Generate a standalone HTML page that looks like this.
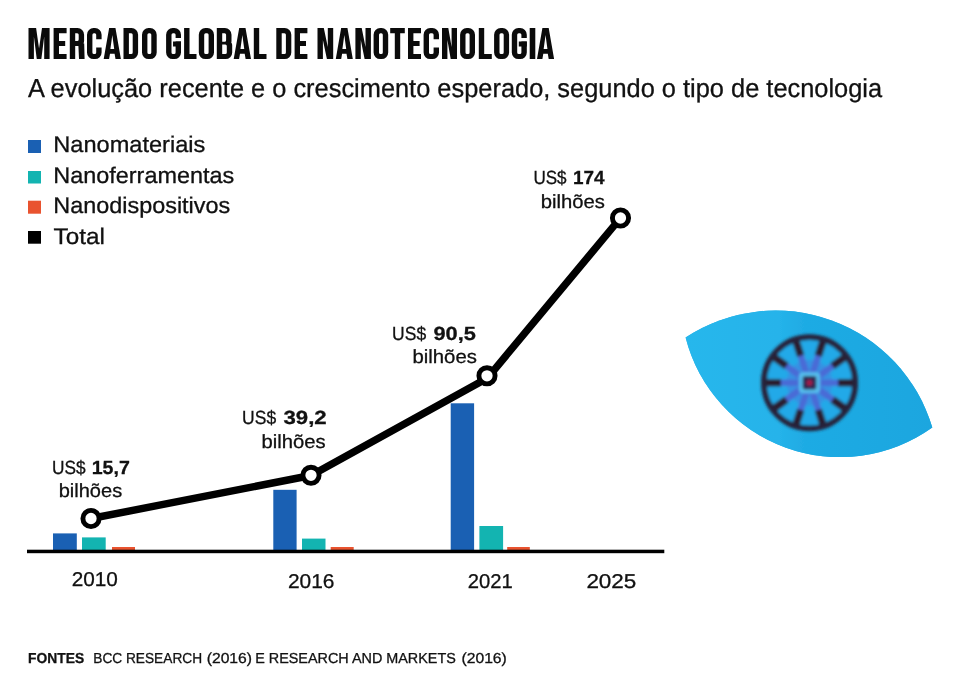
<!DOCTYPE html>
<html><head><meta charset="utf-8">
<style>
html,body{margin:0;padding:0;background:#fff;}
body{width:960px;height:690px;position:relative;overflow:hidden;font-family:"Liberation Sans",sans-serif;color:#111;}
.t{position:absolute;white-space:nowrap;line-height:1;transform-origin:0 0;}
.b{font-weight:bold;}
svg{position:absolute;left:0;top:0;}
</style></head><body>
<svg width="960" height="690" viewBox="0 0 960 690">
<g transform="translate(0,28.1)"><path fill="#0b0b0b" d="M28.5,31 L28.5,0 L36.1,0 L39.05,20.5 L42,0 L49.6,0 L49.6,31 L44.2,31 L44.2,8.5 L41.35,31 L36.75,31 L33.9,8.5 L33.9,31 Z M53.6,0 h5.4 v31 h-5.4 Z M53.6,0 h13 v5.2 h-13 Z M53.6,12.8 h11.6 v5.2 h-11.6 Z M53.6,25.8 h13 v5.2 h-13 Z M69.8,0 h5.4 v31 h-5.4 Z M69.8,0 H77.5 A6.6,6.6 0 0 1 84.1,6.6 V13 A5,5 0 0 1 79.1,18 H69.8 V0 Z M78.3,15.5 L84.2,15.5 L84.6,31 L79,31 Z M93.6,0 H95 A6.6,6.6 0 0 1 101.6,6.6 V24.4 A6.6,6.6 0 0 1 95,31 H93.6 A6.6,6.6 0 0 1 87,24.4 V6.6 A6.6,6.6 0 0 1 93.6,0 Z M103.7,31 L109.15,0 L115.45,0 L120.9,31 L115.5,31 L114.6,25.7 L110,25.7 L109.1,31 Z M123.5,0 H131.5 A6.6,6.6 0 0 1 138.1,6.6 V24.4 A6.6,6.6 0 0 1 131.5,31 H123.5 V0 Z M148.6,0 H150.1 A6.6,6.6 0 0 1 156.7,6.6 V24.4 A6.6,6.6 0 0 1 150.1,31 H148.6 A6.6,6.6 0 0 1 142,24.4 V6.6 A6.6,6.6 0 0 1 148.6,0 Z M172.7,0 H174.4 A6.6,6.6 0 0 1 181,6.6 V24.4 A6.6,6.6 0 0 1 174.4,31 H172.7 A6.6,6.6 0 0 1 166.1,24.4 V6.6 A6.6,6.6 0 0 1 172.7,0 Z M184.1,0 h5.4 v31 h-5.4 Z M184.1,25.8 h12.4 v5.2 h-12.4 Z M205.4,0 H207.4 A6.6,6.6 0 0 1 214,6.6 V24.4 A6.6,6.6 0 0 1 207.4,31 H205.4 A6.6,6.6 0 0 1 198.8,24.4 V6.6 A6.6,6.6 0 0 1 205.4,0 Z M216.8,0 h5.4 v31 h-5.4 Z M216.8,0 H224.9 A6.6,6.6 0 0 1 231.5,6.6 V13.1 A3.5,3.5 0 0 1 228,16.6 H216.8 V0 Z M216.8,13.6 H228.7 A3.5,3.5 0 0 1 232.2,17.1 V24.4 A6.6,6.6 0 0 1 225.6,31 H216.8 V13.6 Z M233.7,31 L239.2,0 L245.5,0 L251,31 L245.6,31 L244.7,25.7 L240,25.7 L239.1,31 Z M253.8,0 h5.4 v31 h-5.4 Z M253.8,25.8 h12.7 v5.2 h-12.7 Z M276.3,0 H284.7 A6.6,6.6 0 0 1 291.3,6.6 V24.4 A6.6,6.6 0 0 1 284.7,31 H276.3 V0 Z M294.6,0 h5.4 v31 h-5.4 Z M294.6,0 h12.8 v5.2 h-12.8 Z M294.6,12.8 h11.4 v5.2 h-11.4 Z M294.6,25.8 h12.8 v5.2 h-12.8 Z M317.5,0 L323.8,0 L327.8,19 L327.8,0 L333.2,0 L333.2,31 L326.9,31 L322.9,12 L322.9,31 L317.5,31 Z M335.8,31 L341.15,0 L347.45,0 L352.8,31 L347.4,31 L346.5,25.7 L342.1,25.7 L341.2,31 Z M355.4,0 L361.7,0 L365.5,19 L365.5,0 L370.9,0 L370.9,31 L364.6,31 L360.8,12 L360.8,31 L355.4,31 Z M380.2,0 H381.6 A6.6,6.6 0 0 1 388.2,6.6 V24.4 A6.6,6.6 0 0 1 381.6,31 H380.2 A6.6,6.6 0 0 1 373.6,24.4 V6.6 A6.6,6.6 0 0 1 380.2,0 Z M390.2,0 h14.6 v5.2 h-14.6 Z M394.8,0 h5.4 v31 h-5.4 Z M408,0 h5.4 v31 h-5.4 Z M408,0 h13 v5.2 h-13 Z M408,12.8 h11.6 v5.2 h-11.6 Z M408,25.8 h13 v5.2 h-13 Z M430.2,0 H432.4 A6.6,6.6 0 0 1 439,6.6 V24.4 A6.6,6.6 0 0 1 432.4,31 H430.2 A6.6,6.6 0 0 1 423.6,24.4 V6.6 A6.6,6.6 0 0 1 430.2,0 Z M442,0 L448.3,0 L451.6,19 L451.6,0 L457,0 L457,31 L450.7,31 L447.4,12 L447.4,31 L442,31 Z M466.7,0 H468.4 A6.6,6.6 0 0 1 475,6.6 V24.4 A6.6,6.6 0 0 1 468.4,31 H466.7 A6.6,6.6 0 0 1 460.1,24.4 V6.6 A6.6,6.6 0 0 1 466.7,0 Z M478.8,0 h5.4 v31 h-5.4 Z M478.8,25.8 h13 v5.2 h-13 Z M500.7,0 H502.5 A6.6,6.6 0 0 1 509.1,6.6 V24.4 A6.6,6.6 0 0 1 502.5,31 H500.7 A6.6,6.6 0 0 1 494.1,24.4 V6.6 A6.6,6.6 0 0 1 500.7,0 Z M518.4,0 H520.2 A6.6,6.6 0 0 1 526.8,6.6 V24.4 A6.6,6.6 0 0 1 520.2,31 H518.4 A6.6,6.6 0 0 1 511.8,24.4 V6.6 A6.6,6.6 0 0 1 518.4,0 Z M529.7,0 h5.6 v31 h-5.6 Z M537,31 L542.4,0 L548.7,0 L554.1,31 L548.7,31 L547.8,25.7 L543.3,25.7 L542.4,31 Z"/><path fill="#fff" d="M75.2,5.2 H77.2 A1.5,1.5 0 0 1 78.7,6.7 V11.5 A1.5,1.5 0 0 1 77.2,13 H75.2 V5.2 Z M93.9,5.2 H94.7 A1.5,1.5 0 0 1 96.2,6.7 V24.3 A1.5,1.5 0 0 1 94.7,25.8 H93.9 A1.5,1.5 0 0 1 92.4,24.3 V6.7 A1.5,1.5 0 0 1 93.9,5.2 Z M96.15,11.1 h6.4 v8.4 h-6.4 Z M112.3,7 L114.2,21 L110.4,21 Z M128.9,5.2 H131.2 A1.5,1.5 0 0 1 132.7,6.7 V24.3 A1.5,1.5 0 0 1 131.2,25.8 H128.9 V5.2 Z M148.9,5.2 H149.8 A1.5,1.5 0 0 1 151.3,6.7 V24.3 A1.5,1.5 0 0 1 149.8,25.8 H148.9 A1.5,1.5 0 0 1 147.4,24.3 V6.7 A1.5,1.5 0 0 1 148.9,5.2 Z M173,5.2 H174.1 A1.5,1.5 0 0 1 175.6,6.7 V24.3 A1.5,1.5 0 0 1 174.1,25.8 H173 A1.5,1.5 0 0 1 171.5,24.3 V6.7 A1.5,1.5 0 0 1 173,5.2 Z M175.55,9.8 h6.4 v3.5 h-6.4 Z M205.7,5.2 H207.1 A1.5,1.5 0 0 1 208.6,6.7 V24.3 A1.5,1.5 0 0 1 207.1,25.8 H205.7 A1.5,1.5 0 0 1 204.2,24.3 V6.7 A1.5,1.5 0 0 1 205.7,5.2 Z M222.2,5.2 H224.6 A1.5,1.5 0 0 1 226.1,6.7 V12.2 A1.5,1.5 0 0 1 224.6,13.7 H222.2 V5.2 Z M222.2,16.5 H225.3 A1.5,1.5 0 0 1 226.8,18 V24.3 A1.5,1.5 0 0 1 225.3,25.8 H222.2 V16.5 Z M242.35,7 L244.25,21 L240.45,21 Z M281.7,5.2 H284.4 A1.5,1.5 0 0 1 285.9,6.7 V24.3 A1.5,1.5 0 0 1 284.4,25.8 H281.7 V5.2 Z M344.3,7 L346.2,21 L342.4,21 Z M380.5,5.2 H381.3 A1.5,1.5 0 0 1 382.8,6.7 V24.3 A1.5,1.5 0 0 1 381.3,25.8 H380.5 A1.5,1.5 0 0 1 379,24.3 V6.7 A1.5,1.5 0 0 1 380.5,5.2 Z M430.5,5.2 H432.1 A1.5,1.5 0 0 1 433.6,6.7 V24.3 A1.5,1.5 0 0 1 432.1,25.8 H430.5 A1.5,1.5 0 0 1 429,24.3 V6.7 A1.5,1.5 0 0 1 430.5,5.2 Z M433.55,11.1 h6.4 v8.4 h-6.4 Z M467,5.2 H468.1 A1.5,1.5 0 0 1 469.6,6.7 V24.3 A1.5,1.5 0 0 1 468.1,25.8 H467 A1.5,1.5 0 0 1 465.5,24.3 V6.7 A1.5,1.5 0 0 1 467,5.2 Z M501,5.2 H502.2 A1.5,1.5 0 0 1 503.7,6.7 V24.3 A1.5,1.5 0 0 1 502.2,25.8 H501 A1.5,1.5 0 0 1 499.5,24.3 V6.7 A1.5,1.5 0 0 1 501,5.2 Z M518.7,5.2 H519.9 A1.5,1.5 0 0 1 521.4,6.7 V24.3 A1.5,1.5 0 0 1 519.9,25.8 H518.7 A1.5,1.5 0 0 1 517.2,24.3 V6.7 A1.5,1.5 0 0 1 518.7,5.2 Z M521.35,9.8 h6.4 v3.5 h-6.4 Z M545.55,7 L547.45,21 L543.65,21 Z"/><path fill="#0b0b0b" d="M173.05,13.3 h7.95 v5.2 h-7.95 Z M518.8,13.3 h8 v5.2 h-8 Z"/></g>
<defs>
<filter id="bl1" x="-5%" y="-5%" width="110%" height="110%"><feGaussianBlur stdDeviation="0.7"/></filter>
<filter id="bl2" x="-10%" y="-10%" width="120%" height="120%"><feGaussianBlur stdDeviation="1.5"/></filter>
<linearGradient id="eyeg" gradientUnits="userSpaceOnUse" x1="685" y1="0" x2="933" y2="0"><stop offset="0" stop-color="#28b7ec"/><stop offset="0.38" stop-color="#25b3ea"/><stop offset="0.48" stop-color="#1fabe4"/><stop offset="1" stop-color="#1ba6df"/></linearGradient>
<clipPath id="eyeclip"><path d="M685.6,337.6 A163.3,163.3 0 0 1 932.3,427.6 A159.4,159.4 0 0 1 685.6,337.6 Z"/></clipPath>
</defs>
<g filter="url(#bl1)">
<path d="M685.6,337.6 A163.3,163.3 0 0 1 932.3,427.6 A159.4,159.4 0 0 1 685.6,337.6 Z" fill="#22aee6"/>
<g clip-path="url(#eyeclip)"><rect x="660" y="300" width="300" height="170" fill="url(#eyeg)"/></g>
</g>
<g filter="url(#bl2)">
<circle cx="809.5" cy="382.8" r="45.6" fill="#23a9e8"/>
<circle cx="809.5" cy="382.8" r="23" fill="#3f83e0" opacity="0.6"/>
<path d="M817.5,382.8 L839.5,382.8 M816.0,387.5 L833.8,400.4 M812.0,390.4 L818.8,411.3 M807.0,390.4 L800.2,411.3 M803.0,387.5 L785.2,400.4 M801.5,382.8 L779.5,382.8 M803.0,378.1 L785.2,365.2 M807.0,375.2 L800.2,354.3 M812.0,375.2 L818.8,354.3 M816.0,378.1 L833.8,365.2" stroke="#4a6ad6" stroke-width="6.5" fill="none"/>
<path d="M838.0,382.8 L855.1,382.8 M832.6,399.6 L846.4,409.6 M818.3,409.9 L823.6,426.2 M800.7,409.9 L795.4,426.2 M786.4,399.6 L772.6,409.6 M781.0,382.8 L763.9,382.8 M786.4,366.0 L772.6,356.0 M800.7,355.7 L795.4,339.4 M818.3,355.7 L823.6,339.4 M832.6,366.0 L846.4,356.0" stroke="#2b1f2e" stroke-width="7.6" fill="none"/>
<circle cx="809.5" cy="382.8" r="45.6" fill="none" stroke="#25223a" stroke-width="5.8"/>
<rect x="799.0" y="372.3" width="21" height="21" rx="4" fill="#55bfee"/>
<rect x="802.7" y="376.0" width="13.6" height="13.6" rx="2" fill="#2e2850"/>
<circle cx="809.5" cy="382.8" r="2.8" fill="#a81c48"/>
</g>
<g>
  <rect x="28" y="140" width="13" height="13" fill="#1a60b3"/>
  <rect x="28" y="171" width="13" height="12.5" fill="#13b4b1"/>
  <rect x="28" y="200.7" width="13" height="13" fill="#e9532f"/>
  <rect x="28" y="231" width="13" height="12.7" fill="#000"/>
  <rect x="53" y="533.4" width="23.8" height="17" fill="#1a60b3"/>
  <rect x="82" y="537.4" width="23.7" height="13" fill="#13b4b1"/>
  <rect x="112" y="547" width="23" height="4" fill="#e9532f"/>
  <rect x="273.3" y="489.8" width="23.3" height="61" fill="#1a60b3"/>
  <rect x="302" y="538.6" width="23.5" height="12" fill="#13b4b1"/>
  <rect x="330.7" y="547" width="23" height="4" fill="#e9532f"/>
  <rect x="450.7" y="403.3" width="23.4" height="148" fill="#1a60b3"/>
  <rect x="479.4" y="526" width="23.7" height="25" fill="#13b4b1"/>
  <rect x="507.2" y="547" width="22.6" height="4" fill="#e9532f"/>
  <rect x="27" y="549.7" width="637.3" height="3.5" fill="#000"/>
  <polyline points="91,518.5 311,475.5 487.2,378.3 620.5,218" fill="none" stroke="#000" stroke-width="7.4" stroke-linejoin="round"/>
  <g fill="#fff" stroke="#000" stroke-width="4.9">
    <circle cx="91" cy="518.5" r="8.1"/>
    <circle cx="311" cy="475.3" r="8.1"/>
    <circle cx="487" cy="375.8" r="8.1"/>
    <circle cx="620.5" cy="218" r="8.1"/>
  </g>
</g>

<g font-family="Liberation Sans, sans-serif" fill="#111" stroke="#111" stroke-width="0.3" opacity="0.999" text-rendering="geometricPrecision">
<text id="sub" transform="translate(28.00,97.00) scale(0.9767,1)" font-size="26">A evolução recente e o crescimento esperado, segundo o tipo de tecnologia</text>
<text id="l1" transform="translate(53.26,152.20) scale(1.0438,1)" font-size="22.6">Nanomateriais</text>
<text id="l2" transform="translate(53.26,183.30) scale(1.0371,1)" font-size="22.6">Nanoferramentas</text>
<text id="l3" transform="translate(53.26,213.00) scale(1.0360,1)" font-size="22.6">Nanodispositivos</text>
<text id="l4" transform="translate(53.60,243.60) scale(1.0748,1)" font-size="22.6">Total</text>
<text id="v1a" transform="translate(52.09,474.00) scale(0.9095,1)" font-size="19">US$</text>
<text id="v1n" transform="translate(91.67,474.00) scale(1.0307,1)" font-size="19" font-weight="bold">15,7</text>
<text id="v1b" transform="translate(58.64,497.40) scale(1.0560,1)" font-size="19">bilhões</text>
<text id="v2a" transform="translate(242.08,424.30) scale(0.9205,1)" font-size="19">US$</text>
<text id="v2n" transform="translate(283.50,424.30) scale(1.1672,1)" font-size="19" font-weight="bold">39,2</text>
<text id="v2b" transform="translate(261.53,447.50) scale(1.0663,1)" font-size="19">bilhões</text>
<text id="v3a" transform="translate(392.08,340.00) scale(0.9205,1)" font-size="19">US$</text>
<text id="v3n" transform="translate(433.50,340.00) scale(1.1467,1)" font-size="19" font-weight="bold">90,5</text>
<text id="v3b" transform="translate(412.43,363.40) scale(1.0714,1)" font-size="19">bilhões</text>
<text id="v4a" transform="translate(533.40,184.30) scale(0.8985,1)" font-size="19">US$</text>
<text id="v4n" transform="translate(572.90,184.30) scale(0.9957,1)" font-size="19" font-weight="bold">174</text>
<text id="v4b" transform="translate(540.63,207.50) scale(1.0663,1)" font-size="19">bilhões</text>
<text id="y1" transform="translate(71.66,586.30) scale(1.0376,1)" font-size="20">2010</text>
<text id="y2" transform="translate(287.96,588.30) scale(1.0445,1)" font-size="20">2016</text>
<text id="y3" transform="translate(467.79,588.00) scale(1.0099,1)" font-size="20">2021</text>
<text id="y4" transform="translate(586.38,588.00) scale(1.1229,1)" font-size="20">2025</text>
<text id="f1" transform="translate(28.10,663.30) scale(0.9520,1)" font-size="14.5" font-weight="bold">FONTES</text>
<text id="f2a" transform="translate(93.26,663.30) scale(0.9442,1)" font-size="14.5">BCC RESEARCH</text>
<text id="f2b" transform="translate(206.70,663.30) scale(1.0807,1)" font-size="14.5">(2016)</text>
<text id="f2c" transform="translate(255.21,663.30) scale(0.9917,1)" font-size="14.5">E RESEARCH AND MARKETS</text>
<text id="f2d" transform="translate(461.50,663.30) scale(1.0807,1)" font-size="14.5">(2016)</text>
</g>
</svg>
</body></html>
